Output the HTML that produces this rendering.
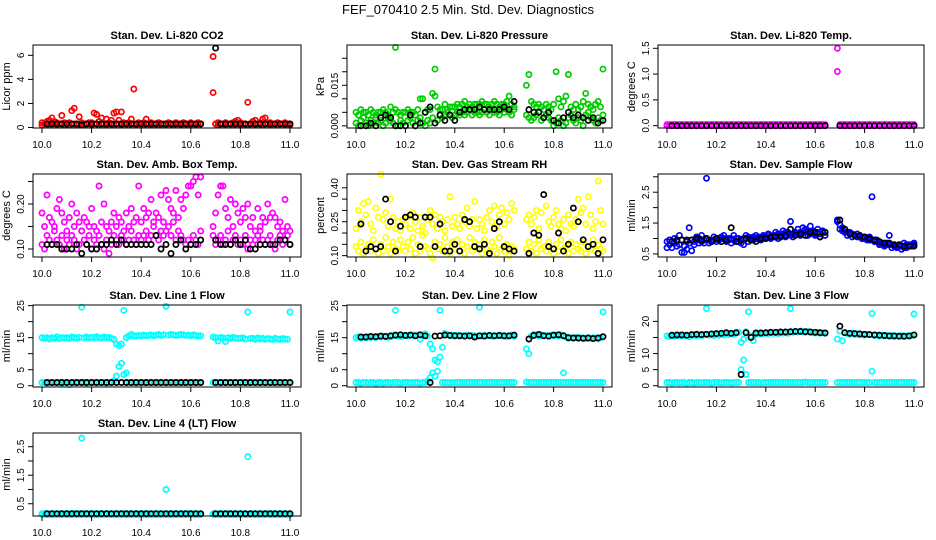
<!DOCTYPE html>
<html><head><meta charset="utf-8"><style>
html,body{margin:0;padding:0;background:#fff;width:936px;height:540px;overflow:hidden}
svg{display:block;font-family:"Liberation Sans",Arial,sans-serif}
</style></head><body>
<svg id="chart" width="936" height="540" viewBox="0 0 936 540" xmlns="http://www.w3.org/2000/svg">
<text x="468" y="14" text-anchor="middle" font-size="13">FEF_070410  2.5 Min. Std. Dev. Diagnostics</text>
</svg>
<script>
const T=[10.00,10.01,10.02,10.03,10.04,10.05,10.06,10.07,10.08,10.09,10.10,10.11,10.12,10.13,10.14,10.15,10.16,10.17,10.18,10.19,10.20,10.21,10.22,10.23,10.24,10.25,10.26,10.27,10.28,10.29,10.30,10.31,10.32,10.33,10.34,10.35,10.36,10.37,10.38,10.39,10.40,10.41,10.42,10.43,10.44,10.45,10.46,10.47,10.48,10.49,10.50,10.51,10.52,10.53,10.54,10.55,10.56,10.57,10.58,10.59,10.60,10.61,10.62,10.63,10.64,
10.69,10.70,10.71,10.72,10.73,10.74,10.75,10.76,10.77,10.78,10.79,10.80,10.81,10.82,10.83,10.84,10.85,10.86,10.87,10.88,10.89,10.90,10.91,10.92,10.93,10.94,10.95,10.96,10.97,10.98,10.99,11.00];
const TB=[10.02,10.04,10.06,10.08,10.10,10.12,10.14,10.16,10.18,10.20,10.22,10.24,10.26,10.28,10.30,10.32,10.34,10.36,10.38,10.40,10.42,10.44,10.46,10.48,10.50,10.52,10.54,10.56,10.58,10.60,10.62,10.64,
10.70,10.72,10.74,10.76,10.78,10.80,10.82,10.84,10.86,10.88,10.90,10.92,10.94,10.96,10.98,11.00];
const xTickVals=[10.0,10.2,10.4,10.6,10.8,11.0];
const xTickLabels=["10.0","10.2","10.4","10.6","10.8","11.0"];

const co2A=[.4,.3,.5,.6,.8,.5,.4,.3,1.0,.4, .3,.4,1.4,1.6,.3,.9,.4,.3,.3,.4, .4,1.2,1.1,.5,.8,.3,.7,.4,.6,1.2, 1.3,.6,1.3,.4,.3,.4,.7,3.2,.3,.4, .3,.4,.7,.3,.4,.3,.3,.4,.3,.3, .3,.4,.3,.3,.4,.3,.3,.4,.3,.3, .4,.3,.3,.4,.3,
5.9,.3,.4,.3,.3,.4,.3,.3,.4,.5,.6, .4,.3,.3,2.1,.3,.5,.6,.3,.4,.7, .8,.3,.4,.3,.3,.4,.3,.3,.4,.3,.3];
const co2B=[.2,.3,.3,.2,.4,.3,.2,.3,.3,.2, .3,.2,.3,.3,.2,.3,.3,.2,.3,.3, .2,.3,.3,.2,.3,.3,.2,.3,.3,.2, .3,.3,.2,.3,.3,.2,.3,.3,.2,.3, .3,.2,.3,.3,.2,.3,.3,.2,.3,.3, .2,.3,.3,.2,.3,.3,.2,.3,.3,.2, .3,.3,.2,.3,.3,
2.9,.3,.2,.3,.3,.2,.3,.3,.2,.3,.3, .2,.3,.3,.2,.3,.3,.2,.3,.3,.2, .3,.3,.2,.3,.3,.2,.3,.3,.2,.3,.2];
const co2K=[.3,.3,.3,.3,.3,.3,.3,.2,.3,.3,.3,.3,.3,.3,.3,.3,.3,.3,.3,.3,.3,.3,.3,.3,.3,.3,.3,.3,.3,.3,.3,.3,
6.6,.3,.3,.3,.3,.3,.3,.3,.3,.3,.3,.3,.3,.3,.3,.3];

const prA=[.005,.004,.006,.005,.005,.004,.006,.005,.004,.005, .005,.006,.005,.004,.007,.005,.006,.005,.004,.005, .005,.006,.005,.005,.004,.006,.010,.010,.005,.006, .006,.012,.011,.007,.006,.006,.008,.006,.007,.007, .007,.008,.007,.008,.009,.007,.008,.007,.008,.008, .008,.009,.008,.008,.007,.008,.009,.008,.007,.008, .008,.009,.011,.008,.007,
.015,.019,.009,.008,.007,.008,.007,.006,.008,.007,.006, .008,.020,.010,.007,.009,.011,.019,.007,.006,.008, .006,.007,.009,.012,.008,.007,.006,.008,.009,.007,.021];
const prB=[.001,.000,.002,.003,.001,.000,.002,.001,.003,.001, .002,.000,.001,.003,.002,.001,.029,.000,.002,.001, .000,.002,.003,.001,.000,.002,.003,.001,.000,.002, .001,.003,.021,.002,.004,.003,.004,.005,.004,.003, .004,.005,.004,.005,.004,.005,.006,.004,.005,.005, .004,.005,.006,.005,.004,.006,.005,.005,.004,.006, .005,.006,.005,.004,.006,
.004,.003,.002,.003,.004,.005,.002,.003,.004,.003,.002, .000,.001,.003,.002,.000,.001,.003,.004,.002,.001, .003,.002,.000,.004,.005,.003,.002,.001,.003,.002,.004];
const prK=[.000,.000,.001,.000,.003,.004,.003,.000,.000,.000,.004,.000,.001,.005,.007,.001,.004,.002,.004,.002,.005,.006,.006,.006,.007,.006,.006,.006,.006,.007,.006,.009,
.006,.005,.005,.003,.005,.002,.001,.003,.005,.003,.004,.003,.002,.003,.001,.002];

const tmA=[.02,.02,.02,.02,.02,.02,.02,.02,.02,.02, .02,.02,.02,.02,.02,.02,.02,.02,.02,.02, .02,.02,.02,.02,.02,.02,.02,.02,.02,.02, .02,.02,.02,.02,.02,.02,.02,.02,.02,.02, .02,.02,.02,.02,.02,.02,.02,.02,.02,.02, .02,.02,.02,.02,.02,.02,.02,.02,.02,.02, .02,.02,.02,.02,.02,
1.5,.02,.02,.02,.02,.02,.02,.02,.02,.02,.02, .02,.02,.02,.02,.02,.02,.02,.02,.02,.02, .02,.02,.02,.02,.02,.02,.02,.02,.02,.02,.02];
const tmB=[0,0,0,0,0,0,0,0,0,0, 0,0,0,0,0,0,0,0,0,0, 0,0,0,0,0,0,0,0,0,0, 0,0,0,0,0,0,0,0,0,0, 0,0,0,0,0,0,0,0,0,0, 0,0,0,0,0,0,0,0,0,0, 0,0,0,0,0,
1.05,0,0,0,0,0,0,0,0,0,0, 0,0,0,0,0,0,0,0,0,0, 0,0,0,0,0,0,0,0,0,0,0];
const tmK=[0,0,0,0,0,0,0,0,0,0,0,0,0,0,0,0,0,0,0,0,0,0,0,0,0,0,0,0,0,0,0,0, 0,0,0,0,0,0,0,0,0,0,0,0,0,0,0,0];

const abA=[.18,.15,.22,.17,.16,.15,.19,.21,.18,.16, .14,.17,.20,.15,.18,.16,.14,.17,.16,.15, .19,.15,.14,.24,.16,.20,.15,.14,.16,.18, .15,.17,.16,.14,.18,.15,.19,.16,.17,.24, .16,.19,.17,.18,.21,.16,.18,.17,.22,.16, .23,.21,.19,.18,.23,.17,.21,.19,.22,.24, .24,.25,.26,.22,.26,
.15,.18,.22,.24,.24,.19,.17,.21,.15,.20,.18, .16,.19,.17,.20,.15,.17,.14,.19,.15,.17, .16,.20,.17,.18,.17,.15,.16,.14,.21,.15,.14];
const abB=[.11,.10,.13,.12,.11,.14,.12,.11,.13,.10, .12,.11,.13,.12,.10,.11,.14,.12,.11,.13, .10,.12,.11,.13,.11,.10,.12,.09,.11,.13, .12,.11,.13,.12,.11,.12,.14,.12,.11,.13, .12,.13,.14,.12,.13,.15,.13,.12,.14,.13, .14,.15,.13,.16,.12,.14,.13,.12,.11,.12, .11,.13,.12,.11,.14,
.13,.11,.12,.13,.11,.12,.14,.11,.12,.13,.11, .12,.11,.13,.10,.12,.11,.12,.13,.14,.12, .11,.12,.13,.11,.10,.12,.13,.11,.12,.13,.11];
const abK=[.11,.11,.11,.10,.10,.10,.11,.09,.11,.10,.10,.11,.11,.12,.11,.12,.11,.11,.11,.11,.11,.11,.13,.10,.11,.09,.11,.12,.10,.11,.11,.12,
.12,.11,.11,.11,.12,.11,.12,.10,.10,.11,.11,.11,.11,.12,.12,.11];

const rhA=[.14,.12,.16,.11,.13,.15,.12,.17,.13,.11, .15,.12,.18,.14,.11,.16,.13,.12,.17,.14, .12,.16,.13,.18,.11,.15,.12,.19,.14,.13, .11,.09,.16,.13,.15,.12,.18,.14,.11,.16, .13,.17,.12,.15,.11,.14,.18,.12,.16,.13, .15,.11,.17,.13,.12,.16,.14,.11,.18,.13, .12,.15,.10,.14,.13,
.13,.16,.12,.15,.11,.17,.13,.14,.12,.16,.13, .11,.15,.12,.17,.13,.14,.11,.16,.12,.15, .13,.12,.16,.11,.14,.13,.17,.12,.15,.13,.12];
const rhB=[.22,.30,.25,.33,.28,.34,.24,.21,.31,.27, .46,.26,.29,.23,.35,.27,.22,.25,.21,.26, .24,.27,.22,.29,.25,.21,.27,.23,.20,.26, .30,.24,.28,.22,.27,.25,.21,.26,.36,.23, .27,.24,.22,.28,.25,.31,.23,.26,.34,.22, .26,.24,.21,.27,.30,.25,.32,.23,.28,.31, .24,.29,.26,.33,.30,
.26,.28,.24,.27,.30,.22,.29,.37,.32,.25,.23, .27,.30,.24,.22,.26,.21,.28,.24,.23,.26, .35,.29,.31,.24,.36,.28,.22,.25,.43,.30,.24];
const rhK=[.24,.12,.14,.13,.14,.35,.25,.12,.23,.27,.28,.27,.14,.27,.27,.14,.24,.12,.12,.15,.12,.26,.25,.14,.13,.15,.11,.22,.25,.14,.13,.12,
.11,.20,.19,.37,.14,.13,.20,.12,.15,.31,.25,.17,.14,.15,.11,.17];

const sfA=[.9,.8,.9,.85,.9,.8,.95,.75,.9,.85, .95,.9,.95,1.0,.9,.95,1.0,.95,.9,.95, 1.0,.95,1.0,1.0,.95,1.0,1.0,.95,1.0,1.0, .95,1.0,1.0,1.05,1.0,1.05,1.0,1.05,1.0,1.05, 1.05,1.1,1.05,1.1,1.1,1.15,1.1,1.15,1.2,1.15, 1.1,1.15,1.2,1.15,1.2,1.2,1.25,1.2,1.15,1.2, 1.1,1.2,1.15,1.2,1.2,
1.55,1.45,1.35,1.3,1.2,1.15,1.15,1.1,1.05,1.05,1.0, 1.0,1.0,.95,.95,.9,.9,.85,.85,.8,.8, .8,.8,.75,.75,.8,.75,.7,.8,.75,.8,.8];
const sfB=[.7,.95,.7,1.0,.75,1.1,.55,.55,.65,1.35, .6,.8,1.05,.85,1.1,.85,2.95,.85,.9,1.05, .9,.95,1.05,1.1,.9,.95,.85,1.1,.9,.9, .85,.8,1.1,.9,1.0,.95,1.1,1.0,.95,1.1, 1.0,1.15,1.0,1.05,1.2,1.0,1.05,1.25,1.05,1.2, 1.55,1.05,1.15,1.3,1.1,1.35,1.3,1.1,1.4,1.25, 1.15,1.3,1.05,1.25,1.1,
1.6,1.3,1.25,1.2,1.1,1.2,1.05,1.1,1.15,1.1,1.0, 1.05,.95,1.05,2.35,.9,.95,.8,.85,.75,.85, 1.1,.7,.8,.7,.75,.65,.85,.7,.8,.75,.85];
const sfK=[.9,.95,.95,.95,.95,1.0,.95,1.0,.9,1.0,.9,.95,1.35,.9,.95,1.0,.95,.9,1.0,1.0,1.05,1.05,1.05,1.1,1.3,1.1,1.15,1.1,1.2,1.2,1.05,1.2,
1.6,1.3,1.15,1.1,1.1,1.05,1.0,.95,.9,.85,.85,.8,.8,.75,.75,.75];

const l1A=[15,14.8,15,14.6,15,14.8,15.2,14.7,15,14.9, 15,14.8,15.2,15,14.9,15.1,24.5,15,15.2,14.9, 15.1,15,15.3,15,14.9,15.2,15,15.1,14.8,14.5, 13,12.5,13,23.5,15,15.5,16,15.6,15.5,15.7, 15.6,15.8,15.6,15.7,15.9,15.6,15.8,16,15.7,15.9, 24.8,15.8,16,15.9,15.7,15.8,16,15.9,15.7,15.8, 15.6,15.9,15.7,15.5,15.6,
15.2,15,14,15.1,14.9,13.8,15,14.8,15.1,14.9,14.7, 14.8,14.9,14.6,23,14.7,14.8,14.5,14.9,14.6,14.8, 14.5,14.7,14.6,14.4,14.8,14.6,14.5,14.7,14.6,14.5,23];
const l1B=[1,1,.8,1,1,.9,1,1,.6,1, 1,.3,1,1,.9,1,1,1,.8,1, 1,1,.9,1,1,1,.8,1,1,1.5, 3,6,7,3.5,4,1,1,1,.9,1, 1,1,1,1,1,1,1,1,1,1, 1,1,1,1,1,1,1,1,1,1, 1,1,1,1,1,
1,1,1,1,1,1,1,1,1,1,1, 1,1,1,1,1,1,1,1,1,1, 1,1,1,1,1,1,1,1,1,1,1];
const l1K=[1,1,1,1,1,1,1,1,1,1,1,1,1,1,1,1,1,1,1,1,1,1,1,1,1,1,1,1,1,1,1,1, 1,1,1,1,1,1,1,1,1,1,1,1,1,1,1,1];

const l2A=[15,15.2,14.9,15.1,15,15.3,15,15.2,15.1,15.4, 15.2,15.5,15.3,15.1,15.4,15.6,23.5,15.5,15.3,15.6, 15.8,15.5,15.7,15.9,15.6,15.8,14.5,15.6,16.2,15.5, 13,11.5,8,4.5,23.5,12,16.3,16,15.7,15.8, 15.6,15.8,15.5,15.7,15.6,15.8,15.5,15.7,15.6,15.4, 24.5,15.5,15.8,15.6,15.7,15.4,15.6,15.5,15.8,15.6, 15.5,15.3,15.6,15.8,15.4,
11.5,10,15.5,16,15.8,15.5,15.9,15.6,15.7,15.4,15.8, 15.6,15.8,15.5,15.9,4,15.2,14.8,15,14.9,15.1, 14.8,15,14.9,14.7,15,14.8,15,14.9,14.7,15,23];
const l2B=[1,1,.8,1,1,.9,1,1,.7,1, 1,.8,1,1,.9,1,1,1,.8,1, 1,1,.9,1,1,1,.8,1,1,1.5, 2.5,4,3,7.5,9,1,1,1,.9,1, 1,1,1,1,1,1,1,1,1,1, 1,1,1,1,1,1,1,1,1,1, 1,1,1,1,1,
1.2,1,1,1,1,1,1,1,1,1,1, 1,1,1,1,1,1,1,1,1,1, 1,1,1,1,1,1,1,1,1,1,1];
const l2K=[15.2,15.2,15.4,15.3,15.5,15.4,15.6,15.8,15.9,15.7,15.8,15.6,15.9,15.6,1,15.5,15.6,15.8,15.7,15.6,15.6,15.5,15.6,15.2,15.6,15.5,15.7,15.6,15.7,15.6,15.6,15.8,
14.6,15.7,16,15.6,15.5,15.8,15.9,15.6,15,14.9,14.9,14.8,14.9,14.7,14.9,15.3];

const l3A=[15.5,15.3,15.6,15.4,15.5,15.7,15.4,15.6,15.5,15.3, 15.6,15.8,15.5,15.7,15.6,15.9,24,15.7,15.8,15.6, 15.9,15.7,16,15.8,16.1,15.9,16.2,16,16.4,16.6, 13.5,14.5,16.8,23,15.5,14,16,16.3,16.1,16.2, 16.3,16.2,16.5,16.3,16.4,16.2,16.6,16.4,16.5,16.3, 24,16.6,16.8,16.7,17,16.8,16.6,16.9,16.7,16.5, 16.4,16.6,16.3,16.5,16.4,
14.5,17,14,16.5,16.2,16,16.3,15.9,16.1,15.8,16, 15.7,16,15.9,22.5,15.6,15.8,15.4,15.7,15.5,15.6, 15.4,15.6,15.3,15.5,15.4,15.6,15.3,15.5,15.4,15.6,22.3];
const l3B=[1,1,.8,1,1,.9,1,1,.7,1, 1,.8,1,1,.9,1,1,1,.8,1, 1,1,.9,1,1,1,.8,1,1,1, 5,8,3.5,1,1,1,1,1,.9,1, 1,1,1,1,1,1,1,1,1,1, 1,1,1,1,1,1,1.2,1,1,1, 1,1,1,1,1,
1,1,1,1,1,1,1,1,1,1,1, 1,1,1,4.5,1,1,1,1,1,1, 1,1,1,1,1,1,1,1,1,1,1];
const l3K=[15.7,15.8,15.8,15.7,15.9,16,15.9,16,16.1,16.2,16.3,16.5,16.3,16.5,3.5,16.5,15,16.4,16.4,16.5,16.6,16.6,16.7,16.7,16.8,16.9,16.9,16.8,16.7,16.6,16.5,16.4,
18.5,16.5,16.3,16.2,16.1,16,15.9,15.8,15.7,15.6,15.5,15.5,15.4,15.4,15.5,15.8];

const l4A=[.15,.15,.15,.15,.15,.15,.15,.15,.15,.15, .15,.15,.15,.16,.15,.15,2.8,.15,.15,.15, .15,.15,.15,.15,.15,.15,.15,.15,.15,.15, .15,.15,.15,.15,.15,.15,.15,.15,.15,.15, .15,.15,.15,.15,.15,.15,.15,.15,.15,.15, 1.0,.15,.15,.15,.15,.15,.15,.15,.15,.15, .15,.15,.15,.15,.15,
.15,.15,.15,.15,.15,.15,.15,.15,.15,.15,.15, .15,.15,.15,2.15,.15,.15,.15,.15,.15,.15, .15,.15,.15,.15,.15,.15,.15,.15,.15,.15,.15];
const l4B=[.12,.12,.12,.12,.12,.12,.12,.12,.12,.12, .12,.12,.12,.12,.12,.12,.12,.12,.12,.12, .12,.12,.12,.12,.12,.12,.12,.12,.12,.12, .12,.12,.12,.12,.12,.12,.12,.12,.12,.12, .12,.12,.12,.12,.12,.12,.12,.12,.12,.12, .12,.12,.12,.12,.12,.12,.12,.12,.12,.12, .12,.12,.12,.12,.12,
.12,.12,.12,.12,.12,.12,.12,.12,.12,.12,.12, .12,.12,.12,.12,.12,.12,.12,.12,.12,.12, .12,.12,.12,.12,.12,.12,.12,.12,.12,.12,.12];
const l4K=[.15,.15,.15,.15,.15,.15,.15,.15,.15,.15,.15,.15,.15,.15,.15,.15,.15,.15,.15,.15,.15,.15,.15,.15,.15,.15,.15,.15,.15,.15,.15,.15, .15,.15,.15,.15,.15,.15,.15,.15,.15,.15,.15,.15,.15,.15,.15,.15];

const colX=[{b0:33,b1:301,t0:42,t1:290},{b0:347,b1:612,t0:356,t1:603},{b0:658,b1:924,t0:667,t1:914}];
const rowY=[{b0:45,b1:128},{b0:174,b1:257},{b0:305,b1:387},{b0:433,b1:516}];
const panels=[
{id:"co2",c:0,r:0,title:"Stan. Dev. Li-820 CO2",ylab:"Licor ppm",col:"#ff0000",lim:[-0.04,6.86],ticks:[0,2,4,6],labs:{0:"0",2:"2",4:"4",6:"6"},A:co2A,B:co2B,K:co2K},
{id:"pressure",c:1,r:0,title:"Stan. Dev. Li-820 Pressure",ylab:"kPa",col:"#00cc00",lim:[-0.0008,0.0299],ticks:[0,.005,.01,.015,.02,.025],labs:{0:"0.000",0.015:"0.015"},A:prA,B:prB,K:prK},
{id:"temp",c:2,r:0,title:"Stan. Dev. Li-820 Temp.",ylab:"degrees C",col:"#ff00ff",lim:[-0.045,1.564],ticks:[0,.5,1,1.5],labs:{0:"0.0",0.5:"0.5",1:"1.0",1.5:"1.5"},A:tmA,B:tmB,K:tmK},
{id:"amb-box-temp",c:0,r:1,title:"Stan. Dev. Amb. Box Temp.",ylab:"degrees C",col:"#ff00ff",lim:[0.0822,0.2667],ticks:[.1,.15,.2,.25],labs:{0.1:"0.10",0.2:"0.20"},A:abA,B:abB,K:abK},
{id:"gas-rh",c:1,r:1,title:"Stan. Dev. Gas Stream RH",ylab:"percent",col:"#ffff00",lim:[0.094,0.461],ticks:[.1,.15,.2,.25,.3,.35,.4],labs:{0.1:"0.10",0.25:"0.25",0.4:"0.40"},A:rhA,B:rhB,K:rhK},
{id:"sample-flow",c:2,r:1,title:"Stan. Dev. Sample Flow",ylab:"ml/min",col:"#0000ff",lim:[0.40,3.09],ticks:[.5,1,1.5,2,2.5,3],labs:{0.5:"0.5",1.5:"1.5",2.5:"2.5"},A:sfA,B:sfB,K:sfK},
{id:"line1-flow",c:0,r:2,title:"Stan. Dev. Line 1 Flow",ylab:"ml/min",col:"#00ffff",lim:[-0.4,25.2],ticks:[0,5,10,15,20,25],labs:{0:"0",5:"5",15:"15",25:"25"},A:l1A,B:l1B,K:l1K},
{id:"line2-flow",c:1,r:2,title:"Stan. Dev. Line 2 Flow",ylab:"ml/min",col:"#00ffff",lim:[-0.4,25.2],ticks:[0,5,10,15,20,25],labs:{0:"0",5:"5",15:"15",25:"25"},A:l2A,B:l2B,K:l2K},
{id:"line3-flow",c:2,r:2,title:"Stan. Dev. Line 3 Flow",ylab:"ml/min",col:"#00ffff",lim:[-0.4,25.1],ticks:[0,5,10,15,20],labs:{0:"0",5:"5",10:"10",20:"20"},A:l3A,B:l3B,K:l3K},
{id:"line4-flow",c:0,r:3,title:"Stan. Dev. Line 4 (LT) Flow",ylab:"ml/min",col:"#00ffff",lim:[0.07,2.98],ticks:[.5,1,1.5,2,2.5],labs:{0.5:"0.5",1.5:"1.5",2.5:"2.5"},A:l4A,B:l4B,K:l4K}
];
const NS="http://www.w3.org/2000/svg";
const svg=document.getElementById("chart");
function mk(tag,attrs,parent){const e=document.createElementNS(NS,tag);for(const k in attrs)e.setAttribute(k,attrs[k]);parent.appendChild(e);return e;}
panels.forEach(p=>{
  const cx=colX[p.c],ry=rowY[p.r];
  const xs=t=>cx.t0+(t-10)*(cx.t1-cx.t0);
  const ys=v=>ry.b1-(v-p.lim[0])/(p.lim[1]-p.lim[0])*(ry.b1-ry.b0);
  const g=mk("g",{},svg);
  
  
  const tt=mk("text",{x:(cx.b0+cx.b1)/2,y:ry.b0-6,"text-anchor":"middle","font-size":"11","font-weight":"bold"},g);
  tt.textContent=p.title;
  
  
  const yl=mk("text",{x:0,y:0,"text-anchor":"middle","font-size":"11",transform:`translate(${cx.b0-23},${(ry.b0+ry.b1)/2}) rotate(-90)`},g);
  yl.textContent=p.ylab;
  
  
  const pts=mk("g",{fill:"none","stroke-width":"1.7"},g);
  
  
  [[p.B,T,p.col],[p.A,T,p.col],[p.K,TB,"#000"]].forEach(([vals,tm,col])=>{
    vals.forEach((v,i)=>{
      const c=mk("circle",{cx:xs(tm[i]).toFixed(1),cy:ys(v).toFixed(1),r:"2.6",stroke:col},pts);
      
      
    });
  });
  const box=mk("rect",{x:cx.b0,y:ry.b0,width:cx.b1-cx.b0,height:ry.b1-ry.b0,fill:"none",stroke:"#000","stroke-width":"1"},g);
  
  
  xTickVals.forEach((t,i)=>{
    const x=xs(t);
    const l=mk("line",{x1:x,x2:x,y1:ry.b1,y2:ry.b1+5,stroke:"#000"},g);
    
    
    const tx=mk("text",{x:x,y:ry.b1+20,"text-anchor":"middle","font-size":"10"},g);
    tx.textContent=xTickLabels[i];
    
    
  });
  p.ticks.forEach(v=>{
    const y=ys(v);
    const l=mk("line",{x1:cx.b0-5,x2:cx.b0,y1:y,y2:y,stroke:"#000"},g);
    
    
    const lab=p.labs[v];
    if(lab!==undefined){
      const tx=mk("text",{x:0,y:0,"text-anchor":"middle","font-size":"10",transform:`translate(${cx.b0-9},${y}) rotate(-90)`},g);
      tx.textContent=lab;
      
      
    }
  });
});
</script>
</body></html>
